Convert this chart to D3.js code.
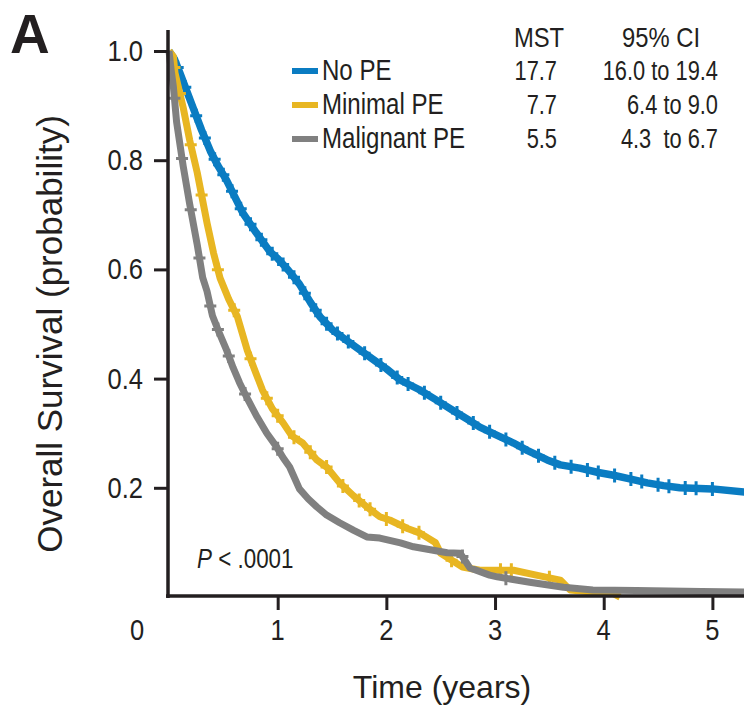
<!DOCTYPE html>
<html lang="en">
<head>
<meta charset="UTF-8">
<title>Overall survival by PE status</title>
<script src="https://d3js.org/d3.v7.min.js"></script>
<style>
  html, body { margin: 0; padding: 0; background: #fff; }
  svg { display: block; }
  text { font-family: "Liberation Sans", Arial, sans-serif; fill: #231f20; }
</style>
</head>
<body>
<svg id="chart" width="744" height="710"></svg>
<script>
// values
const groups = ["No PE", "Minimal PE", "Malignant PE"];
const colors = ["#0a7cc2", "#e8b622", "#808080"];
const mst = ["17.7", "7.7", "5.5"];
const ci = ["16.0 to 19.4", "6.4 to 9.0", "4.3\u00a0 to 6.7"];
const yTicks = [0.2, 0.4, 0.6, 0.8, 1.0];
const xTicks = [1, 2, 3, 4, 5];

const noPeTime = [0, 0.05, 0.1, 0.22, 0.3, 0.38, 0.45, 0.53, 0.6, 0.68, 0.8, 0.93, 1.0, 1.1, 1.2, 1.3, 1.39, 1.5, 1.6, 1.76, 1.9, 2.0, 2.13, 2.3, 2.45, 2.61, 2.75, 2.86, 3.0, 3.17, 3.3, 3.48, 3.6, 3.78, 3.95, 4.09, 4.25, 4.4, 4.55, 4.7, 5.0, 5.3];
const noPeSurv = [1.0, 0.985, 0.96, 0.897, 0.855, 0.817, 0.79, 0.763, 0.735, 0.703, 0.668, 0.632, 0.62, 0.598, 0.573, 0.54, 0.513, 0.49, 0.475, 0.452, 0.432, 0.418, 0.397, 0.38, 0.362, 0.342, 0.325, 0.311, 0.298, 0.282, 0.268, 0.251, 0.242, 0.236, 0.228, 0.223, 0.216, 0.209, 0.204, 0.2, 0.198, 0.192];
const noPeCens = [0.08, 0.15, 0.25, 0.33, 0.42, 0.5, 0.58, 0.66, 0.75, 0.85, 0.95, 1.05, 1.15, 1.25, 1.35, 1.45, 1.55, 1.65, 1.8, 1.95, 2.1, 2.2, 2.35, 2.5, 2.65, 2.8, 2.95, 3.1, 3.25, 3.4, 3.55, 3.7, 3.85, 3.95, 4.1, 4.25, 4.35, 4.5, 4.6, 4.75, 4.85, 5.0];

const minTime = [0, 0.04, 0.055, 0.13, 0.19, 0.26, 0.35, 0.41, 0.47, 0.55, 0.63, 0.72, 0.8, 0.86, 0.95, 1.05, 1.13, 1.23, 1.36, 1.45, 1.57, 1.7, 1.82, 1.94, 2.03, 2.2, 2.31, 2.45, 2.5, 2.7, 2.86, 3.17, 3.38, 3.6, 3.69, 3.9, 4.08, 4.15];
const minSurv = [1.0, 0.99, 0.96, 0.897, 0.837, 0.777, 0.685, 0.63, 0.584, 0.545, 0.513, 0.452, 0.41, 0.379, 0.345, 0.319, 0.295, 0.282, 0.251, 0.238, 0.209, 0.185, 0.165, 0.147, 0.141, 0.125, 0.117, 0.1, 0.08, 0.055, 0.049, 0.049, 0.04, 0.031, 0.013, 0.009, 0.007, 0.0];
const minCens = [0.05, 0.1, 0.2, 0.3, 0.45, 0.6, 0.75, 0.9, 1.0, 1.15, 1.3, 1.45, 1.6, 1.75, 1.85, 2.0, 2.15, 2.3, 2.6, 3.05, 3.15, 3.5];

const malTime = [0, 0.02, 0.04, 0.07, 0.13, 0.19, 0.26, 0.31, 0.35, 0.4, 0.46, 0.53, 0.59, 0.65, 0.73, 0.81, 0.9, 0.99, 1.05, 1.11, 1.2, 1.28, 1.36, 1.45, 1.57, 1.7, 1.82, 1.94, 2.13, 2.25, 2.56, 2.68, 2.77, 2.95, 3.02, 3.32, 3.63, 3.9, 4.3, 4.9, 5.3];
const malSurv = [1.0, 0.965, 0.935, 0.87, 0.79, 0.72, 0.645, 0.585, 0.56, 0.515, 0.485, 0.452, 0.42, 0.392, 0.36, 0.33, 0.3, 0.275, 0.255, 0.238, 0.198, 0.18, 0.165, 0.15, 0.136, 0.122, 0.11, 0.108, 0.099, 0.092, 0.081, 0.08, 0.053, 0.04, 0.037, 0.027, 0.018, 0.013, 0.012, 0.01, 0.009];
const malCens = [0.05, 0.12, 0.2, 0.28, 0.38, 0.45, 0.55, 0.7, 1.0, 2.7, 3.1];

const series = [
  { time: noPeTime, surv: noPeSurv, cens: noPeCens, color: colors[0], width: 7.5 },
  { time: minTime, surv: minSurv, cens: minCens, color: colors[1], width: 7 },
  { time: malTime, surv: malSurv, cens: malCens, color: colors[2], width: 7 }
];

const svg = d3.select("#chart");
const ink = "#231f20";

const x = d3.scaleLinear().domain([0, 5.3]).range([169, 745]);
const y = d3.scaleLinear().domain([0, 1]).range([597, 51]);

// condensed look: Liberation Sans squeezed horizontally
function label(parent, px, py, str, size, sx, anchor) {
  return parent.append("text")
    .attr("transform", `translate(${px},${py}) scale(${sx},1)`)
    .attr("text-anchor", anchor || "start")
    .style("font-size", size + "px")
    .text(str);
}

// curves
const line = d3.line()
  .x(d => x(d[0]))
  .y(d => y(d[1]));

function survAt(s, t) {
  const i = d3.bisectRight(s.time, t);
  if (i >= s.time.length) return s.surv[s.surv.length - 1];
  const t0 = s.time[i - 1], t1 = s.time[i];
  return s.surv[i - 1] + (s.surv[i] - s.surv[i - 1]) * (t - t0) / (t1 - t0);
}

series.forEach(s => {
  const pts = s.time.map((t, i) => [t, s.surv[i]]);
  svg.append("path")
    .attr("d", line(pts))
    .attr("fill", "none")
    .attr("stroke", s.color)
    .attr("stroke-width", s.width)
    .attr("stroke-linejoin", "round");

  // censor marks as small plus signs
  svg.selectAll(null)
    .data(s.cens)
    .join("path")
    .attr("d", d => {
      const cx = x(d), cy = y(survAt(s, d));
      return `M${cx - 6},${cy}H${cx + 6}M${cx},${cy - 7}V${cy + 7}`;
    })
    .attr("stroke", s.color)
    .attr("stroke-width", 3)
    .attr("fill", "none");
});

// axes
const yAxis = svg.append("g")
  .attr("transform", "translate(168,0)")
  .call(d3.axisLeft(y).tickValues(yTicks).tickFormat("").tickSize(14).tickSizeOuter(0));
const xAxis = svg.append("g")
  .attr("transform", "translate(0,596)")
  .call(d3.axisBottom(x).tickValues(xTicks).tickFormat("").tickSize(14).tickSizeOuter(0));

[yAxis, xAxis].forEach(g => {
  g.select(".domain").remove();
  g.selectAll(".tick line").attr("stroke", ink).attr("stroke-width", 3);
});

yTicks.forEach(v => label(svg, 143, y(v) + 10, d3.format(".1f")(v), 29, 0.88, "end"));
xTicks.forEach(v => label(svg, x(v), 640, d3.format("d")(v), 29, 0.88, "middle"));
label(svg, x(0) - 32, 640, "0", 29, 0.88, "middle");

svg.append("line")
  .attr("x1", 168).attr("x2", 168).attr("y1", 30).attr("y2", 598)
  .attr("stroke", ink).attr("stroke-width", 3.5);
svg.append("line")
  .attr("x1", 166).attr("x2", 744).attr("y1", 596).attr("y2", 596)
  .attr("stroke", ink).attr("stroke-width", 3.5);

// titles
label(svg, 442, 698, "Time (years)", 32, 1, "middle");

svg.append("text")
  .attr("transform", "translate(62,334) rotate(-90)")
  .attr("text-anchor", "middle")
  .style("font-size", "35px")
  .text("Overall Survival (probability)");

svg.append("text")
  .attr("x", 10).attr("y", 53)
  .style("font-size", "55px")
  .style("font-weight", "bold")
  .text("A");

const p = label(svg, 197, 568, "", 28, 0.8);
p.append("tspan").style("font-style", "italic").text("P");
p.append("tspan").text(" < .0001");

// legend
const rowY = [80, 114, 148];
label(svg, 539, 47, "MST", 28, 0.85, "middle");
label(svg, 661, 47, "95% CI", 28, 0.85, "middle");

groups.forEach((g, i) => {
  svg.append("line")
    .attr("x1", 292).attr("x2", 318)
    .attr("y1", rowY[i] - 9).attr("y2", rowY[i] - 9)
    .attr("stroke", colors[i])
    .attr("stroke-width", 6);
  label(svg, 322, rowY[i], g, 29, 0.83);
  label(svg, 557, rowY[i], mst[i], 28, 0.78, "end");
  label(svg, 718, rowY[i], ci[i], 28, 0.78, "end");
});
</script>
</body>
</html>
